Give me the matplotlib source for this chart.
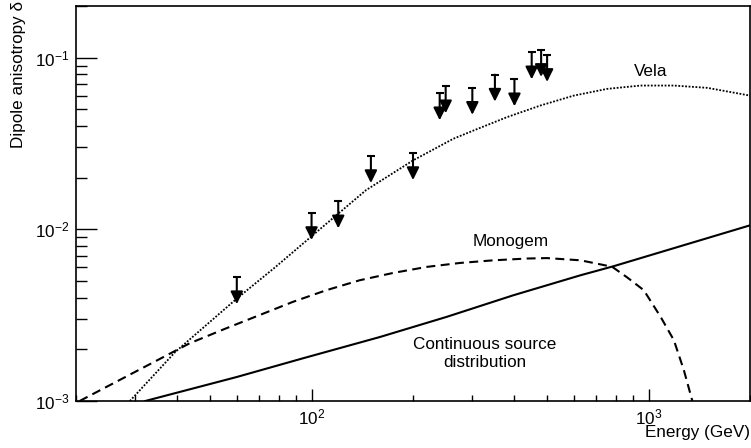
import matplotlib
matplotlib.use("Agg")
import matplotlib.pyplot as plt
import matplotlib.ticker as ticker
import numpy as np

plt.rcParams['font.family'] = ['Liberation Sans', 'DejaVu Sans']
plt.rcParams['mathtext.fontset'] = 'custom'
plt.rcParams['mathtext.rm'] = 'Liberation Sans'
plt.rcParams['mathtext.it'] = 'Liberation Sans:italic'

# limites superiores medidos (energia en GeV, anisotropia dipolar)
lim_energy = [60, 100, 120, 150, 200, 240, 250, 300, 350, 400, 450, 480, 500]
lim_delta = [0.00526, 0.01244, 0.01455, 0.0267, 0.0278, 0.062, 0.0681,
             0.0667, 0.0796, 0.0748, 0.1074, 0.1109, 0.1037]

# curva Vela (punteada)
vela_energy = [28.9, 39.4, 60, 78.2, 115, 145, 200, 263.4, 302, 379.7, 477, 599.5,
               753.6, 946.6, 1189, 1495, 1878, 2000]
vela_delta = [0.001, 0.00193, 0.00395, 0.00604, 0.0115, 0.0169, 0.0252, 0.0337,
              0.0376, 0.045, 0.0526, 0.0601, 0.0658, 0.0688, 0.0688, 0.0667,
              0.0615, 0.0601]

# curva Monogem (discontinua)
mono_energy = [20.5, 43.4, 55.7, 70, 88, 110.6, 139, 174.6, 219.5, 275.7, 346.5,
               435.5, 500, 628, 687, 780, 865, 968, 1086, 1189, 1273, 1349]
mono_delta = [0.001, 0.002165, 0.002647, 0.003162, 0.003779, 0.004419, 0.005052,
              0.005572, 0.00604, 0.00637, 0.0066, 0.00676, 0.0068, 0.0066, 0.00637,
              0.00605, 0.00524, 0.00442, 0.00309, 0.00226, 0.00151, 0.001]

# distribucion continua de fuentes (solida)
cont_energy = [32.1, 60, 94, 159.6, 251.6, 397, 628, 788, 2000]
cont_delta = [0.001, 0.00138, 0.00177, 0.00236, 0.00309, 0.00413, 0.0054, 0.0061, 0.01055]

fig = plt.figure(figsize=(7.51, 4.48), dpi=100)
ax = fig.add_axes([76/751, 47/448, 674/751, 395/448])
ax.set_xscale('log')
ax.set_yscale('log')
ax.set_xlim(20, 2000)
ax.set_ylim(1e-3, 0.2)

ax.plot(vela_energy, vela_delta, color='black', lw=1.3, ls=(0, (1, 0.9)))
ax.plot(mono_energy, mono_delta, color='black', lw=1.5, ls=(0, (4.3, 2.6)))
ax.plot(cont_energy, cont_delta, color='black', lw=1.5)

# flechas de limite superior: tope horizontal y flecha hacia abajo
arrow_ratio = 10 ** (27 / 172)
ax.plot(lim_energy, lim_delta, ls='none', marker='_', ms=6, mew=1.5, color='black')
for e, d in zip(lim_energy, lim_delta):
    ax.annotate('', xy=(e, d / arrow_ratio), xytext=(e, d),
                arrowprops=dict(arrowstyle='-|>,head_length=0.75,head_width=0.37',
                                mutation_scale=10, color='black', lw=1.5,
                                shrinkA=0, shrinkB=0))

ax.text(1014, 0.0785, 'Vela', ha='center', va='baseline', fontsize=12.3)
ax.text(390, 0.00796, 'Monogem', ha='center', va='baseline', fontsize=12.3)
ax.text(326, 0.0020, 'Continuous source', ha='center', va='baseline', fontsize=12.3)
ax.text(326, 10 ** (-3 + 34.3 / 172), 'distribution', ha='center', va='baseline', fontsize=12.3)

# ejes estilo ROOT
for s in ax.spines.values():
    s.set_linewidth(1.2)
ax.xaxis.set_major_locator(ticker.LogLocator(base=10))
ax.xaxis.set_minor_locator(ticker.LogLocator(base=10, subs=np.arange(2, 10)))
ax.yaxis.set_major_locator(ticker.LogLocator(base=10))
ax.yaxis.set_minor_locator(ticker.LogLocator(base=10, subs=np.arange(2, 10)))
ax.xaxis.set_minor_formatter(ticker.NullFormatter())
ax.yaxis.set_minor_formatter(ticker.NullFormatter())
ax.xaxis.set_major_formatter(ticker.FuncFormatter(lambda v, p: '$10^{%d}$' % round(np.log10(v))))
ax.yaxis.set_major_formatter(ticker.FuncFormatter(lambda v, p: '$10^{%d}$' % round(np.log10(v))))
ax.tick_params(axis='x', which='major', direction='in', length=9, width=1, labelsize=12.3, pad=5)
ax.tick_params(axis='x', which='minor', direction='in', length=4.5, width=1)
ax.tick_params(axis='y', which='major', direction='in', length=15, width=1, labelsize=12.3, pad=5)
ax.tick_params(axis='y', which='minor', direction='in', length=8, width=1)

fig.text(750/751, 1 - 437/448, 'Energy (GeV)', ha='right', va='baseline', fontsize=12.3)
fig.text(19/751, 1 - 1/448, 'Dipole anisotropy δ', rotation=90, ha='center', va='top', fontsize=12.3)

fig.savefig('out.png', dpi=100)
